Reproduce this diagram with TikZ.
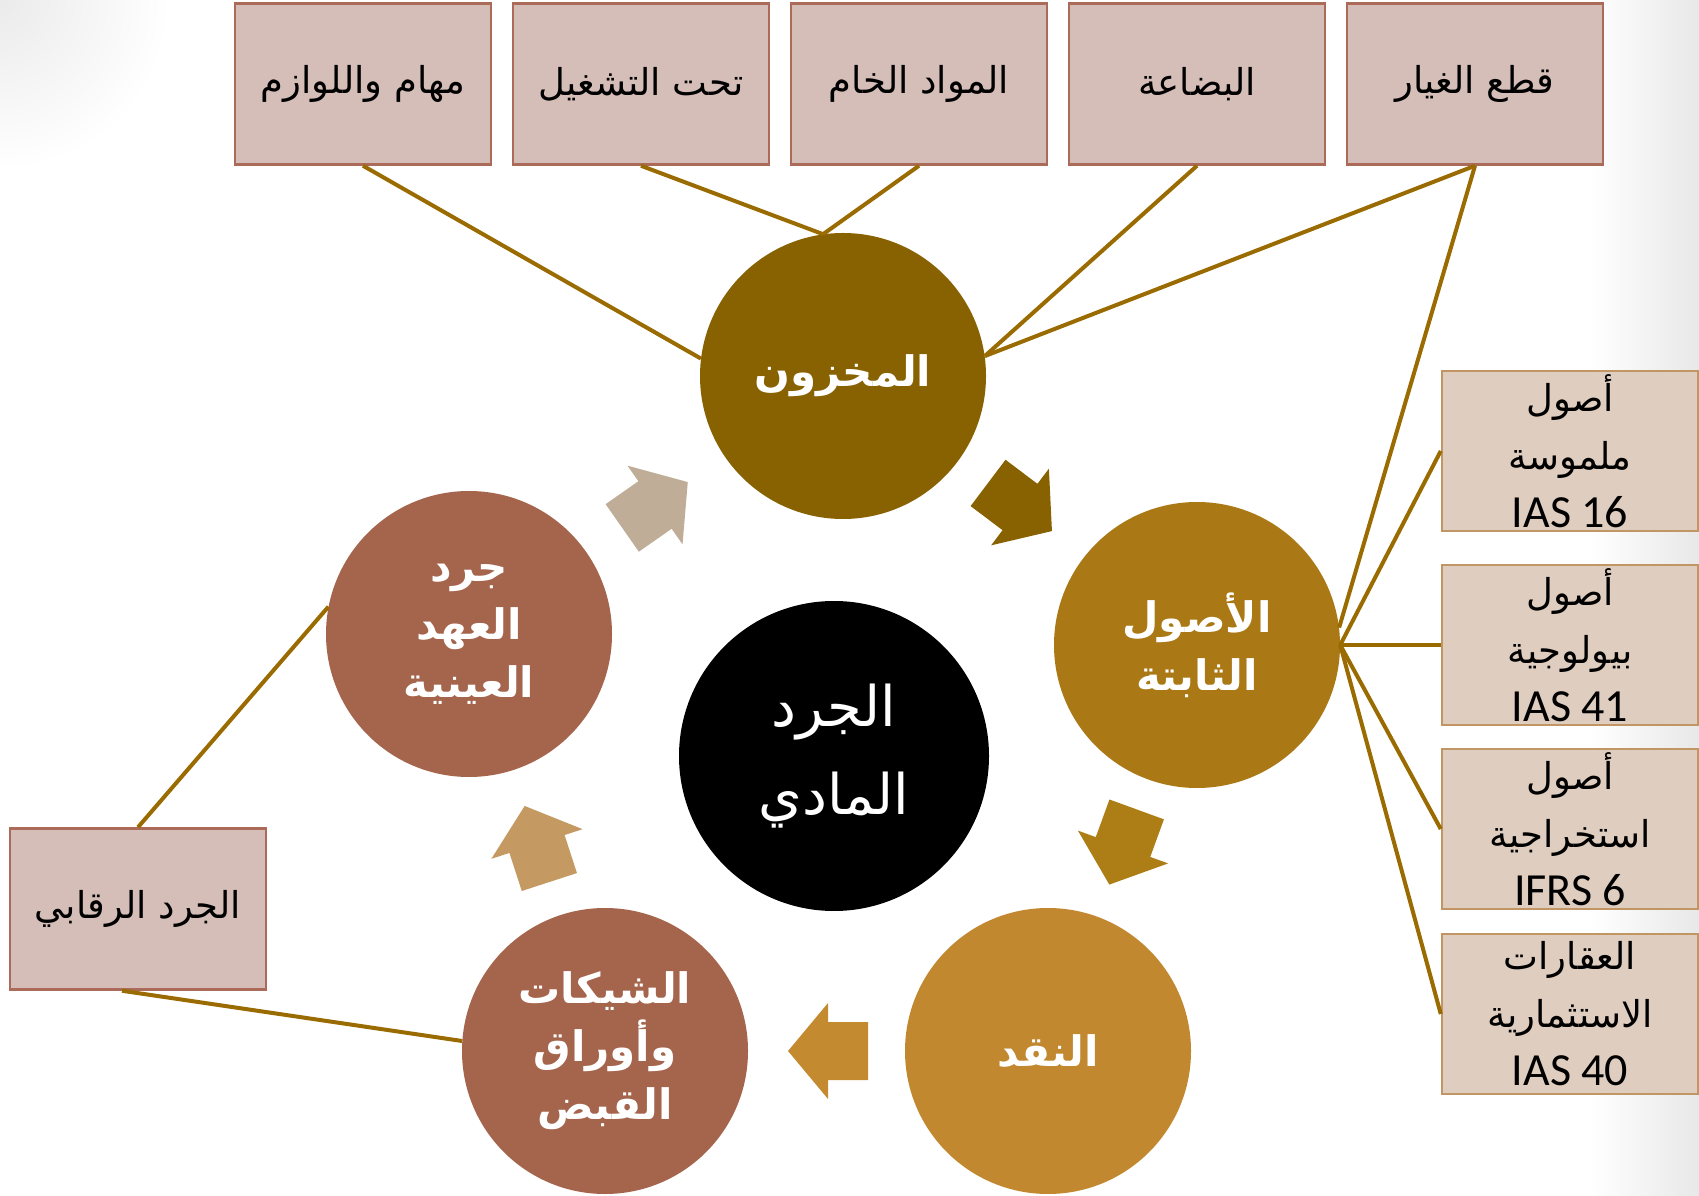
\documentclass[tikz,border=0pt]{standalone}
\usepackage{fontspec}
\usetikzlibrary{positioning}
\TeXXeTstate=1
\newfontfamily\arabicfont[Script=Arabic]{DejaVu Sans}
\newfontfamily\latinfont{Carlito}
\newcommand{\artxt}[1]{\beginR #1\endR}
\newcommand{\ias}[1]{{\latinfont\fontsize{46}{58}\selectfont #1}}
\definecolor{invcol}{HTML}{886100}
\definecolor{fixcol}{HTML}{AA7814}
\definecolor{cashcol}{HTML}{C1882F}
\definecolor{brncol}{HTML}{A5644C}
\definecolor{arrA}{HTML}{886100}
\definecolor{arrB}{HTML}{AD7E16}
\definecolor{arrC}{HTML}{C38A30}
\definecolor{arrD}{HTML}{C49A62}
\definecolor{arrE}{HTML}{BFAD98}
\definecolor{linkcol}{HTML}{9A6B00}
\definecolor{boxfill}{HTML}{D5BEB8}
\definecolor{boxedge}{HTML}{AB6B58}
\definecolor{sidefill}{HTML}{DFCDBF}
\definecolor{sideedge}{HTML}{C29565}

\begin{document}
\begin{tikzpicture}[x=1pt,y=1pt,node distance=278pt]

\tikzstyle{phase}=[circle,minimum size=286pt,inner sep=0pt,text=white,align=center,font=\arabicfont\bfseries\fontsize{42}{58}\selectfont]
\tikzstyle{topbox}=[rectangle,draw=boxedge,fill=boxfill,line width=2.5pt,minimum width=256pt,minimum height=161pt,align=center,font=\arabicfont\fontsize{37}{44}\selectfont]
\tikzstyle{sidebox}=[rectangle,draw=sideedge,fill=sidefill,line width=2.5pt,minimum width=256pt,minimum height=160pt,inner sep=0pt,align=center,font=\arabicfont\fontsize{37}{58}\selectfont]
\tikzstyle{link}=[draw=linkcol,line width=4pt]

\useasboundingbox (0,0) rectangle (1699,1195);
\shade[left color=white,right color=black!9] (1590,0) rectangle (1699,1195);
\shade[inner color=black!8,outer color=white] (0,1195) circle (170);

\node[phase,fill=invcol]	(inv)	at (843,819)	{\artxt{المخزون}};
\node[phase,fill=fixcol]	(fix)	at (1197,550)	{\artxt{الأصول}\\\artxt{الثابتة}};
\node[phase,fill=cashcol]	(cash)	at (1048,144)	{\artxt{النقد}};
\node[phase,fill=brncol]	(chq)	at (605,144)	{\artxt{الشيكات}\\\artxt{وأوراق}\\\artxt{القبض}};
\node[phase,fill=brncol]	(cust)	at (469,561)	{\artxt{جرد}\\\artxt{العهد}\\\artxt{العينية}};
\node[phase,fill=black,minimum size=310pt,font=\arabicfont\fontsize{56}{88}\selectfont]
							(phys)	at (834,439)	{\artxt{الجرد}\\\artxt{المادي}};

\node[topbox]	(tools)	at (363,1111)		{\artxt{مهام واللوازم}};
\node[topbox]	(wip)	[right of=tools]	{\artxt{تحت التشغيل}};
\node[topbox]	(raw)	[right of=wip]		{\artxt{المواد الخام}};
\node[topbox]	(goods)	[right of=raw]		{\artxt{البضاعة}};
\node[topbox]	(spare)	[right of=goods]	{\artxt{قطع الغيار}};
\node[topbox]	(ctl)	at (138,286)		{\artxt{الجرد الرقابي}};

\node[sidebox]	(tang)	at (1570,744)							{\artxt{أصول}\\\artxt{ملموسة}\\\ias{IAS 16}};
\node[sidebox]	(bio)	[below of=tang,node distance=194pt]		{\artxt{أصول}\\\artxt{بيولوجية}\\\ias{IAS 41}};
\node[sidebox]	(extr)	[below of=bio,node distance=184pt]		{\artxt{أصول}\\\artxt{استخراجية}\\\ias{IFRS 6}};
\node[sidebox]	(prop)	[below of=extr,node distance=185pt]		{\artxt{العقارات}\\\artxt{الاستثمارية}\\\ias{IAS 40}};

\foreach \x/\y/\a/\c in {1020/688/-37/arrA, 1123/348/-110/arrB, 828/144/180/arrC, 537/351/108/arrD, 655/690/35/arrE}
	\fill[\c,shift={(\x,\y)},rotate=\a] (-40,-29) -- (0,-29) -- (0,-48) -- (40,0) -- (0,48) -- (0,29) -- (-40,29) -- cycle;

\path[link]	(tools.south)	edge (inv.173)
			(wip.south)		edge (inv.98)
			(raw.south)		edge (inv.98)
			(goods.south)	edge (inv.8)
			(spare.south)	edge (inv.8)
							edge (fix.7)
			(fix.east)		edge (tang.west)
							edge (bio.west)
							edge (extr.west)
							edge (prop.west)
			(cust.169)		edge (ctl.north)
			([xshift=-16pt]ctl.south)	edge (chq.176);
\end{tikzpicture}
\end{document}
